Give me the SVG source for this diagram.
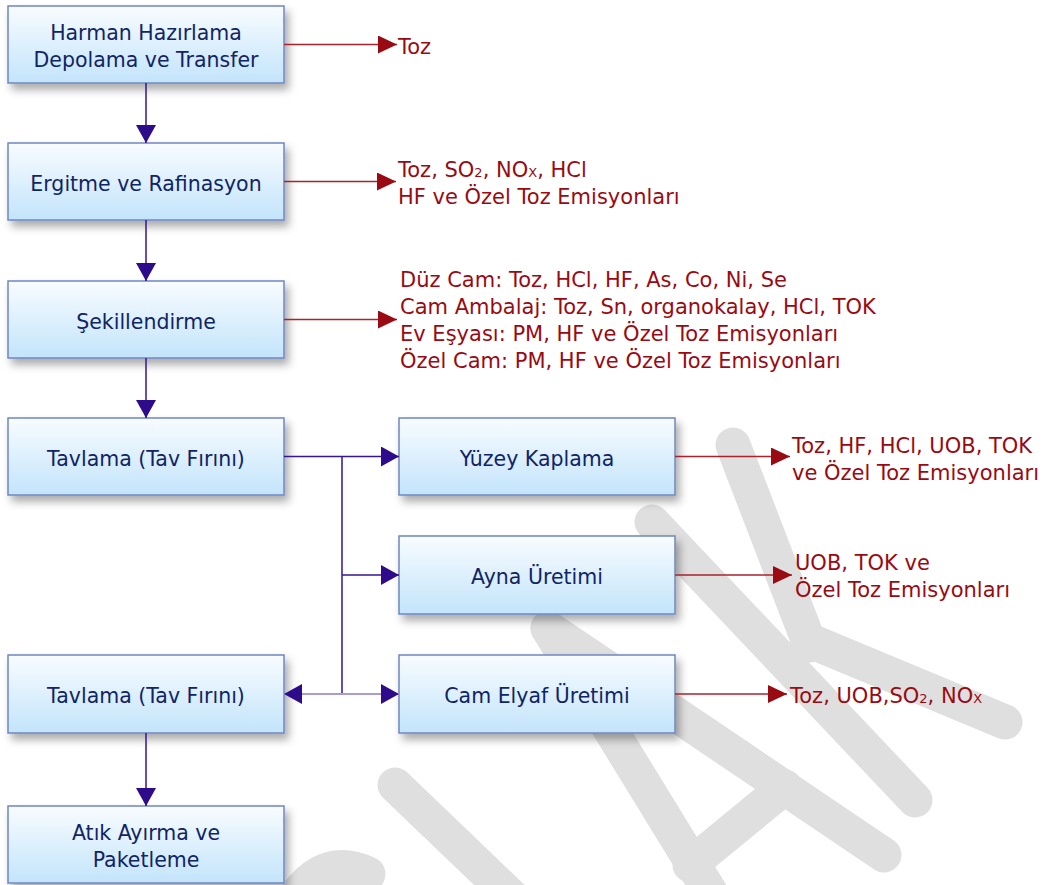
<svg xmlns="http://www.w3.org/2000/svg" width="1047" height="885" viewBox="0 0 1047 885">
  <defs>
    <linearGradient id="boxfill" x1="0" y1="0" x2="0" y2="1">
      <stop offset="0" stop-color="#f8fcff"/>
      <stop offset="1" stop-color="#c3e4fb"/>
    </linearGradient>
    <filter id="shadow" x="-10%" y="-20%" width="125%" height="150%">
      <feDropShadow dx="4" dy="6" stdDeviation="4" flood-color="#000" flood-opacity="0.33"/>
    </filter>
    <marker id="ai" markerUnits="userSpaceOnUse" markerWidth="18" markerHeight="20" viewBox="0 0 18 20" refX="18" refY="10" orient="auto-start-reverse">
      <path d="M0,0 L18,10 L0,20 z" fill="#2e0b8a"/>
    </marker>
    <marker id="ar" markerUnits="userSpaceOnUse" markerWidth="19" markerHeight="18" viewBox="0 0 19 18" refX="19" refY="9" orient="auto">
      <path d="M0,0 L19,9 L0,18 z" fill="#9a0a12"/>
    </marker>
    <style>
      .box { fill: url(#boxfill); stroke: #6f87c2; stroke-width: 1.5; filter: url(#shadow); }
      .lbl { font-family: "DejaVu Sans", Verdana, sans-serif; font-size: 20.5px; fill: #112466; text-anchor: middle; }
      .em { font-family: "DejaVu Sans", Verdana, sans-serif; font-size: 21px; fill: #9a0a12; }
      .sub { font-size: 13px; }
      .flow { fill: none; stroke: #35168f; stroke-width: 1.5; marker-end: url(#ai); }
      .flowlight { fill: none; stroke: #a99cd6; stroke-width: 2; }
      .out { fill: none; stroke: #a8232b; stroke-width: 1.3; marker-end: url(#ar); }
      .wm { fill: none; stroke: #dfdfdf; stroke-width: 35; stroke-linecap: round; stroke-linejoin: round; }
    </style>
  </defs>

  <g id="watermark" class="wm">
    <path d="M290,905 Q322,852 368,874"/>
    <path d="M395,785 L515,900"/>
    <path d="M548,628 L715,900"/>
    <path d="M548,628 L884,855"/>
    <path d="M785,787 L690,865"/>
    <path d="M652,522 L915,800"/>
    <path d="M733,445 L810,645"/>
    <path d="M808,640 L1005,722"/>
  </g>

  <g id="n1"><rect class="box" x="8" y="6" width="276" height="77"/>
    <text class="lbl" x="146" y="39.5">Harman Hazırlama</text>
    <text class="lbl" x="146" y="67">Depolama ve Transfer</text></g>
  <g id="n2"><rect class="box" x="8" y="143" width="276" height="77"/>
    <text class="lbl" x="146" y="191">Ergitme ve Rafinasyon</text></g>
  <g id="n3"><rect class="box" x="8" y="281" width="276" height="77"/>
    <text class="lbl" x="146" y="328.5">Şekillendirme</text></g>
  <g id="n4"><rect class="box" x="8" y="418" width="276" height="77"/>
    <text class="lbl" x="146" y="465.5">Tavlama (Tav Fırını)</text></g>
  <g id="n5"><rect class="box" x="399" y="418" width="276" height="77"/>
    <text class="lbl" x="537" y="465.5">Yüzey Kaplama</text></g>
  <g id="n6"><rect class="box" x="399" y="536" width="276" height="78"/>
    <text class="lbl" x="537" y="584">Ayna Üretimi</text></g>
  <g id="n7"><rect class="box" x="399" y="655" width="276" height="78"/>
    <text class="lbl" x="537" y="703">Cam Elyaf Üretimi</text></g>
  <g id="n8"><rect class="box" x="8" y="655" width="276" height="78"/>
    <text class="lbl" x="146" y="703">Tavlama (Tav Fırını)</text></g>
  <g id="n9"><rect class="box" x="8" y="806" width="276" height="77"/>
    <text class="lbl" x="146" y="840">Atık Ayırma ve</text>
    <text class="lbl" x="146" y="867">Paketleme</text></g>

  <g id="connectors">
    <path class="flow" d="M146,83 L146,143"/>
    <path class="flow" d="M146,220 L146,281"/>
    <path class="flow" d="M146,358 L146,418"/>
    <path class="flow" d="M146,733 L146,806"/>
    <path class="flow" d="M284,456.5 L399,456.5"/>
    <path fill="none" stroke="#35168f" stroke-width="1.5" d="M342,456.5 L342,694"/>
    <path class="flow" d="M342,575 L399,575"/>
    <path class="flowlight" d="M342,694 L399,694" marker-end="url(#ai)"/>
    <path class="flowlight" d="M342,694 L284,694" marker-end="url(#ai)"/>
    <path class="out" stroke="#d46a6a" d="M284,44.5 L397,44.5"/>
    <path class="out" d="M284,181.5 L396,181.5"/>
    <path class="out" d="M284,319.5 L397,319.5"/>
    <path class="out" d="M675,456.5 L790,456.5"/>
    <path class="out" d="M675,575 L792,575"/>
    <path class="out" stroke="#e6a2a8" d="M675,694 L787,694"/>
  </g>

  <g id="emissions">
    <text class="em" x="398" y="53.5">Toz</text>
    <text class="em" x="398" y="177">Toz, SO<tspan class="sub">2</tspan>, NO<tspan class="sub">X</tspan>, HCl</text>
    <text class="em" x="398" y="203.5">HF ve Özel Toz Emisyonları</text>
    <text class="em" x="400" y="286.5">Düz Cam: Toz, HCl, HF, As, Co, Ni, Se</text>
    <text class="em" x="400" y="313.8">Cam Ambalaj: Toz, Sn, organokalay, HCl, TOK</text>
    <text class="em" x="400" y="341">Ev Eşyası: PM, HF ve Özel Toz Emisyonları</text>
    <text class="em" x="400" y="368.3">Özel Cam: PM, HF ve Özel Toz Emisyonları</text>
    <text class="em" x="792" y="452.5">Toz, HF, HCl, UOB, TOK</text>
    <text class="em" x="792" y="479.5">ve Özel Toz Emisyonları</text>
    <text class="em" x="795" y="570">UOB, TOK ve</text>
    <text class="em" x="795" y="597">Özel Toz Emisyonları</text>
    <text class="em" x="790" y="703">Toz, UOB,SO<tspan class="sub">2</tspan>, NO<tspan class="sub">X</tspan></text>
  </g>
</svg>
